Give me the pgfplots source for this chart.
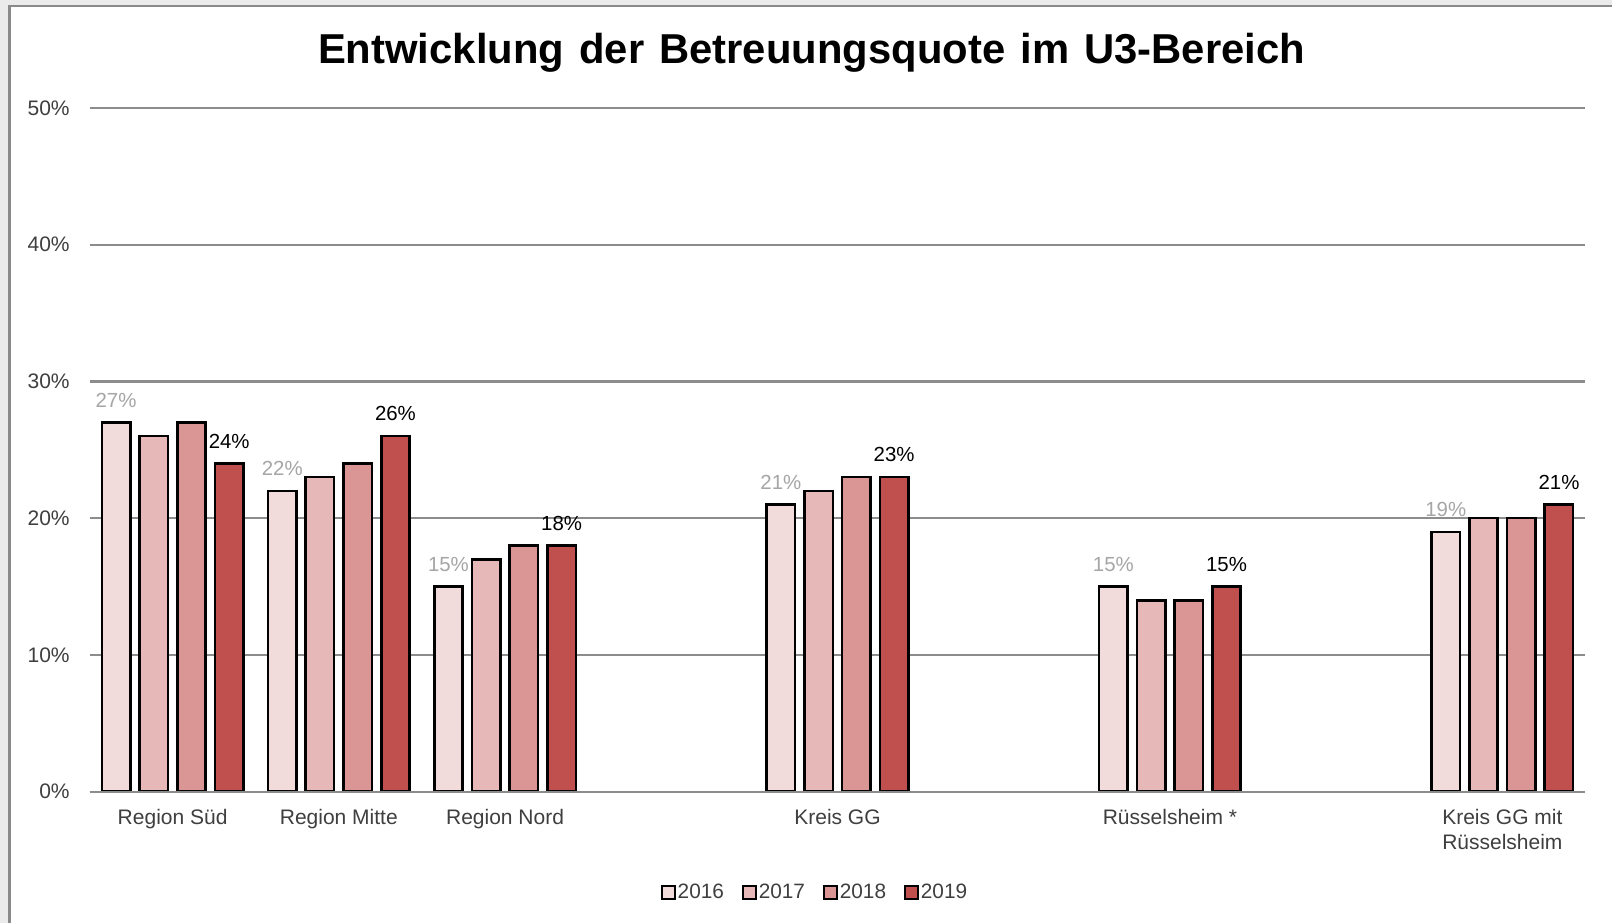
\documentclass[border=0pt]{standalone}
\usepackage{fontspec}
\setmainfont{Liberation Sans}
\usepackage{pgfplots}
\usepackage{pgfplotstable}
\pgfplotsset{compat=1.18}

\definecolor{c16}{HTML}{F2DCDB}
\definecolor{c17}{HTML}{E6B9B8}
\definecolor{c18}{HTML}{D99694}
\definecolor{c19}{HTML}{C0504D}
\definecolor{gridc}{HTML}{8C8C8C}
\definecolor{txt}{HTML}{3F3F3F}
\definecolor{lblgray}{HTML}{A6A6A6}
\definecolor{bgc}{HTML}{EBEBEB}
\definecolor{framec}{HTML}{8A8A8A}

% Betreuungsquote in %, x = Position der Kategorie
\pgfplotstableread{
x y16 y17 y18 y19
0 27 26 27 24
1 22 23 24 26
2 15 17 18 18
4 21 22 23 23
6 15 14 14 15
8 19 20 20 21
}\quote

\newcommand{\tsp}{\hspace{0.36em}}

\begin{document}
\begin{tikzpicture}
  % Hintergrund und Rahmen
  \fill[white] (0,0) rectangle (806pt,461.5pt);
  \fill[bgc] (0,0) rectangle (4pt,461.5pt);
  \fill[bgc] (0,459pt) rectangle (806pt,461.5pt);
  \draw[framec, line width=1.2pt] (4.7pt,0) -- (4.7pt,458.4pt) -- (806pt,458.4pt);

  \node[anchor=base, font=\fontsize{20.9}{23}\selectfont\bfseries]
    at (405.75pt,429.85pt) {Entwicklung\tsp der\tsp Betreuungsquote\tsp im\tsp U3-Bereich};

  \begin{axis}[
    at={(44.75pt,65.65pt)}, anchor=south west,
    scale only axis, width=748pt, height=341.9pt,
    xmin=-0.5, xmax=8.5, ymin=0, ymax=50,
    ybar, bar width=14.2pt,
    axis line style={draw=none},
    major tick length=0pt,
    ytick={0,10,...,50},
    xtick={0,1,2,4,6,8},
    xticklabels={Region Süd, Region Mitte, Region Nord, Kreis GG, Rüsselsheim *, {Kreis GG mit\\Rüsselsheim}},
    ymajorgrids, grid style={gridc, line width=1.1pt},
    /pgf/number format/assume math mode=true,
    yticklabel={\pgfmathprintnumber{\tick}\%},
    yticklabel style={font=\fontsize{10.5}{12}\selectfont, text=txt, xshift=-6.4pt},
    xticklabel style={font=\fontsize{10.5}{12.7}\selectfont, text=txt, align=center, yshift=-5.3pt},
    nodes near coords={\pgfmathprintnumber{\pgfplotspointmeta}\%},
    legend style={at={(0.485,-0.1474)}, anchor=center, draw=none, fill=none,
      legend columns=4, font=\fontsize{10.4}{12}\selectfont, text=txt,
      nodes={inner xsep=1pt},
      /tikz/every even column/.append style={column sep=8pt}},
    legend image code/.code={\draw[#1,/tikz/.cd,line width=1pt] (0pt,-3.2pt) rectangle (6.4pt,3.2pt);},
  ]
    \addplot[fill=c16, draw=black, line width=1.3pt, bar shift=-28.3pt,
      every node near coord/.append style={font=\fontsize{10.2}{12}\selectfont, text=lblgray, yshift=3.5pt}]
      table[x=x, y=y16] {\quote};
    \addplot[fill=c17, draw=black, line width=1.3pt, bar shift=-9.43pt, nodes near coords={}]
      table[x=x, y=y17] {\quote};
    \addplot[fill=c18, draw=black, line width=1.3pt, bar shift=9.43pt, nodes near coords={}]
      table[x=x, y=y18] {\quote};
    \addplot[fill=c19, draw=black, line width=1.3pt, bar shift=28.3pt,
      every node near coord/.append style={font=\fontsize{10.2}{12}\selectfont, text=black, yshift=3.5pt}]
      table[x=x, y=y19] {\quote};
    \legend{2016,2017,2018,2019}
    % Grundlinie ueber den Balken
    \draw[gridc, line width=1.1pt] (axis cs:-0.5,0) -- (axis cs:8.5,0);
  \end{axis}
  \pgfresetboundingbox
  \useasboundingbox (0,0) rectangle (806pt,461.5pt);
\end{tikzpicture}
\end{document}
